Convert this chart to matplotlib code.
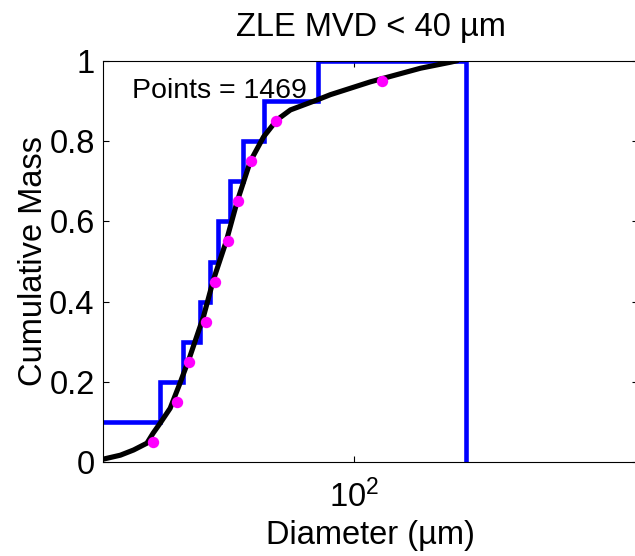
import numpy as np
import matplotlib
matplotlib.use("Agg")
import matplotlib.pyplot as plt

plt.rcParams['font.family'] = ['Liberation Sans', 'DejaVu Sans']
plt.rcParams['mathtext.fontset'] = 'custom'
plt.rcParams['mathtext.rm'] = 'Liberation Sans'

# curva de masa acumulada (ajuste)
diam_curva = [15.0, 17.1, 18.9, 20.9, 21.9, 23.1, 24.9, 26.8, 28.9, 32.0, 34.5,
              38.0, 41.3, 45.6, 50.4, 55.7, 61.7, 75.5, 83.4, 112.8, 164.7, 206.6, 215.0]
masa_curva = [0.007, 0.017, 0.030, 0.047, 0.072, 0.097, 0.134, 0.196, 0.263, 0.362, 0.454,
              0.550, 0.650, 0.750, 0.811, 0.853, 0.878, 0.903, 0.916, 0.948, 0.982, 0.997, 1.0]

# puntos medios de cada decil
diam_puntos = [21.9, 26.2, 28.7, 32.6, 34.9, 38.4, 41.4, 45.8, 55.3, 123.3]
masa_puntos = [0.05, 0.15, 0.25, 0.35, 0.45, 0.55, 0.65, 0.75, 0.85, 0.95]

# escalones de los deciles
bordes = [10.0, 23.0, 27.5, 31.1, 33.7, 35.8, 39.2, 43.1, 50.4, 76.2, 233.0]
niveles = [0.1, 0.2, 0.3, 0.4, 0.5, 0.6, 0.7, 0.8, 0.9, 1.0]

n_puntos = 1469

xs = np.repeat(bordes, 2)[1:]
ys = np.append(np.repeat(niveles, 2), 0.0)

fig = plt.figure(figsize=(6.35, 5.56), dpi=100)
ax = fig.add_axes([103 / 635, 94 / 556, 535 / 635, 401 / 556])

ax.plot(xs, ys, color='#0000ff', linewidth=3.3, solid_joinstyle='miter')
ax.plot(diam_curva, masa_curva, color='black', linewidth=3.7)
ax.plot(diam_puntos, masa_puntos, 'o', color='#ff00ff', markersize=8.2, markeredgewidth=0)

ax.text(18.7, 0.907, f'Points = {n_puntos}', fontsize=20.5, va='baseline')

ax.set_xscale('log')
ax.set_xlim(15, 850)
ax.set_ylim(0, 1)
ax.set_xticks([100])
ax.set_xticklabels([r'$\mathregular{10^{2}}$'])
ax.minorticks_off()
ax.set_yticks([0, 0.2, 0.4, 0.6, 0.8, 1.0])
ax.set_yticklabels(['0', '0.2', '0.4', '0.6', '0.8', '1'])

ax.tick_params(direction='in', length=4, width=0.8, top=True, right=True,
               labelsize=23.5, color='black')
ax.tick_params(axis='x', pad=13)
ax.tick_params(axis='y', pad=6)
for s in ax.spines.values():
    s.set_linewidth(0.8)

ax.set_title('ZLE MVD < 40 µm', fontsize=23.5, pad=18)
ax.set_xlabel('Diameter (µm)', fontsize=23.5, labelpad=4)
ax.set_ylabel('Cumulative Mass', fontsize=23.5, labelpad=0)

fig.savefig('out.png', dpi=100)
